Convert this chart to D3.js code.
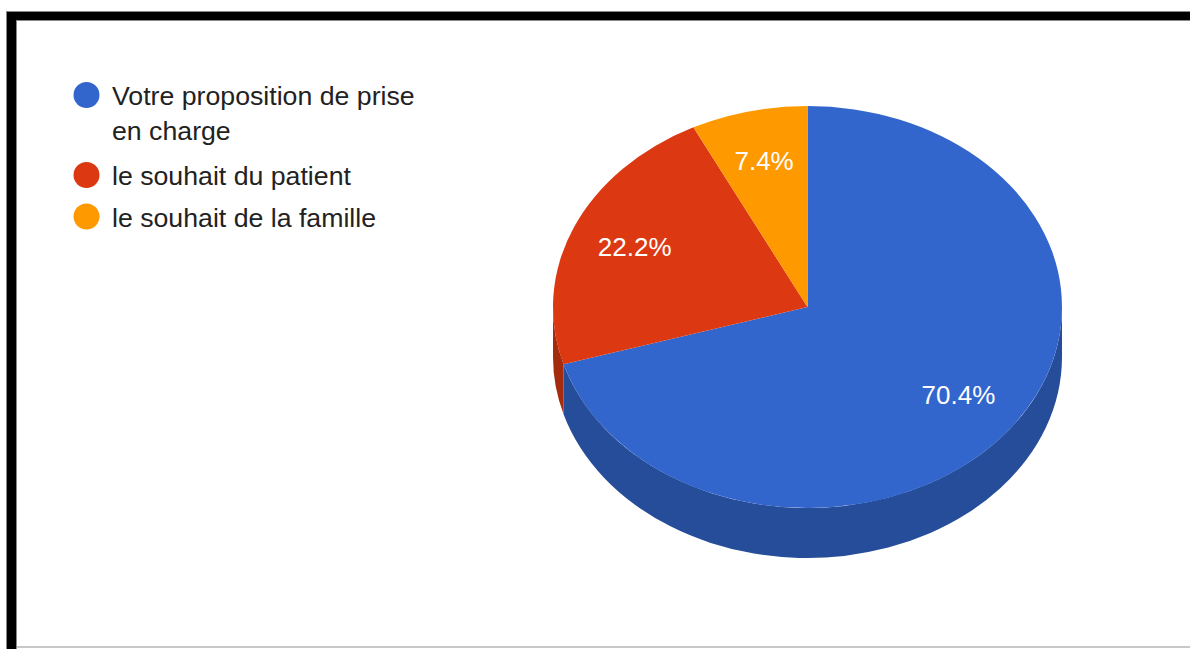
<!DOCTYPE html>
<html>
<head>
<meta charset="utf-8">
<script src="https://cdn.jsdelivr.net/npm/d3@7"></script>
<style>
  html, body { margin: 0; padding: 0; background: #fff; }
  svg { display: block; }
  text { font-family: "Liberation Sans", Arial, sans-serif; }
</style>
</head>
<body>
<svg id="chart" width="1190" height="649"></svg>
<script>
// Survey answers: who drives the care decision
const categories = ["Votre proposition de prise en charge", "le souhait du patient", "le souhait de la famille"];
const legendLines = [["Votre proposition de prise", "en charge"], ["le souhait du patient"], ["le souhait de la famille"]];
const values = [70.4, 22.2, 7.4];
const labels = ["70.4%", "22.2%", "7.4%"];
const topColors = ["#3366cc", "#dc3912", "#ff9900"];
const sideColors = ["#264d99", "#a52b0e", "#bf7300"];

const svg = d3.select("#chart");

// frame
svg.append("rect").attr("x", 7).attr("y", 11).attr("width", 1183).attr("height", 10).attr("fill", "#888");
svg.append("rect").attr("x", 6).attr("y", 11).attr("width", 11).attr("height", 638).attr("fill", "#888");
svg.append("rect").attr("x", 7).attr("y", 12).attr("width", 1183).attr("height", 8).attr("fill", "#000");
svg.append("rect").attr("x", 7).attr("y", 12).attr("width", 9).attr("height", 637).attr("fill", "#000");
svg.append("rect").attr("x", 17).attr("y", 646).attr("width", 1173).attr("height", 2).attr("fill", "#c8c8c8");

// pie geometry (tilted disc)
const cx = 807.5, cy = 307, rx = 254.5, ry = 201, depth = 50;
const color = d3.scaleOrdinal().domain(categories).range(topColors);
const sideColor = d3.scaleOrdinal().domain(categories).range(sideColors);

const pie = d3.pie().sort(null).value(d => d.value).startAngle(0).endAngle(2 * Math.PI);
const data = categories.map((c, i) => ({ name: c, value: values[i], label: labels[i] }));
const arcs = pie(data);

const pt = (a, dy = 0) => [cx + rx * Math.sin(a), cy - ry * Math.cos(a) + dy];

// side wall: only the front half (angles between 90° and 270°) is visible
const wall = svg.append("g");
arcs.forEach(d => {
  const a0 = Math.max(d.startAngle, Math.PI / 2);
  const a1 = Math.min(d.endAngle, 3 * Math.PI / 2);
  if (a1 <= a0) return;
  const [x0, y0] = pt(a0), [x1, y1] = pt(a1);
  const large = (a1 - a0) > Math.PI ? 1 : 0;
  const p = `M${x0},${y0} A${rx},${ry} 0 ${large} 1 ${x1},${y1} L${x1},${y1 + depth} ` +
            `A${rx},${ry} 0 ${large} 0 ${x0},${y0 + depth} Z`;
  wall.append("path").attr("d", p).attr("fill", sideColor(d.data.name));
});

// top face
const arc = d3.arc().innerRadius(0).outerRadius(rx);
const face = svg.append("g").attr("transform", `translate(${cx},${cy}) scale(1,${ry / rx})`);
face.selectAll("path").data(arcs).join("path")
  .attr("d", arc)
  .attr("fill", d => color(d.data.name));

// value labels
const labelRatio = 0.74;
svg.append("g").selectAll("text").data(arcs).join("text")
  .attr("x", d => cx + rx * labelRatio * Math.sin((d.startAngle + d.endAngle) / 2))
  .attr("y", d => cy - ry * labelRatio * Math.cos((d.startAngle + d.endAngle) / 2))
  .attr("dy", "0.3em")
  .attr("text-anchor", "middle")
  .attr("fill", "#fff")
  .attr("font-size", 26)
  .text(d => d.data.label);

// legend
const legendY = [95, 175, 216.5];
const leg = svg.append("g");
categories.forEach((c, i) => {
  leg.append("circle").attr("cx", 86.5).attr("cy", legendY[i]).attr("r", 13).attr("fill", color(c));
  const t = leg.append("text").attr("x", 112).attr("y", legendY[i] + 10)
    .attr("font-size", 26.7).attr("fill", "#222");
  legendLines[i].forEach((line, j) => {
    t.append("tspan").attr("x", 112).attr("dy", j === 0 ? 0 : 35).text(line);
  });
});
</script>
</body>
</html>
